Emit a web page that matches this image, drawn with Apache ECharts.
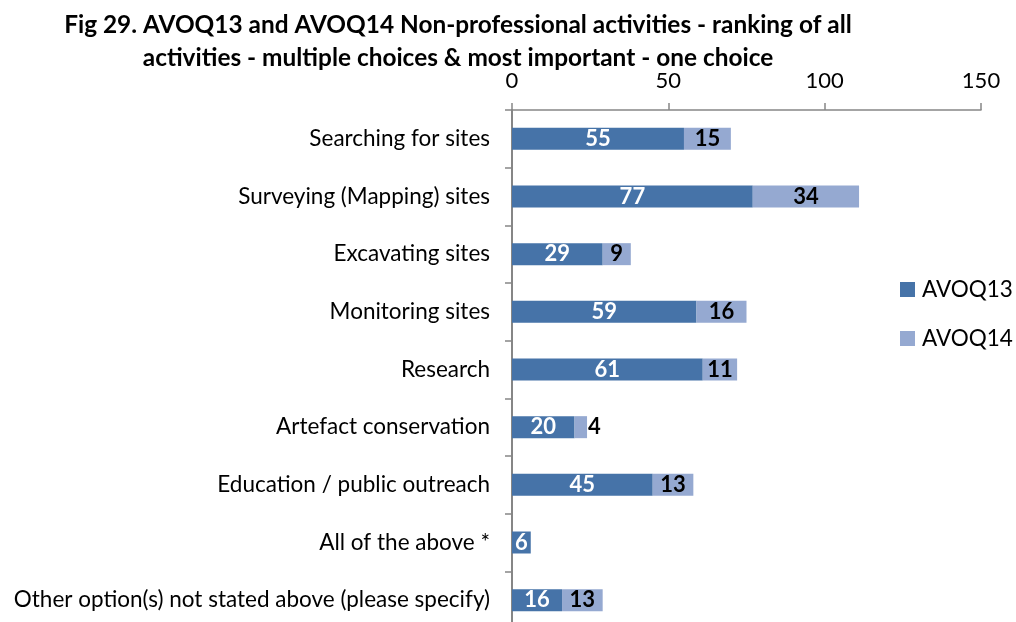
<!DOCTYPE html>
<html>
<head>
<meta charset="utf-8">
<script src="https://cdn.jsdelivr.net/npm/echarts@6/dist/echarts.min.js"></script>
<style>
  html, body { margin: 0; padding: 0; background: #fff; overflow: hidden; }
  /* canvas runs a little past the bottom edge so the last category band is full height */
  #chart { width: 1016px; height: 640px; }
</style>
</head>
<body>
<div id="chart"></div>
<script>
const categories = [
  'Searching for sites',
  'Surveying (Mapping) sites',
  'Excavating sites',
  'Monitoring sites',
  'Research',
  'Artefact conservation',
  'Education / public outreach',
  'All of the above *',
  'Other option(s) not stated above (please specify)'
];
const avoq13 = [55, 77, 29, 59, 61, 20, 45, 6, 16];
const avoq14 = [15, 34, 9, 16, 11, 4, 13, null, 13];
const xTicks = [0, 50, 100, 150];

const FONT = 'Lato, "Open Sans", sans-serif';
const AXIS_COLOR = '#868686';

// Very short segments can't hold their number, so it sits just past the bar end
function segmentData(values) {
  return values.map(v => (v != null && v < 5)
    ? { value: v, label: { position: 'right', distance: 1 } }
    : v);
}

const chart = echarts.init(document.getElementById('chart'), null, { renderer: 'canvas' });

chart.setOption({
  backgroundColor: '#ffffff',
  animation: false,
  title: {
    text: 'Fig 29. AVOQ13 and AVOQ14 Non-professional activities - ranking of all\nactivities - multiple choices & most important - one choice',
    left: 453,
    top: 4,
    textAlign: 'center',
    textStyle: {
      fontFamily: FONT,
      fontWeight: 'bold',
      fontSize: 24.4,
      lineHeight: 33,
      color: '#000'
    }
  },
  legend: {
    orient: 'vertical',
    left: 895,
    top: 273,
    itemWidth: 15,
    itemHeight: 15,
    itemGap: 26,
    icon: 'rect',
    textStyle: { fontFamily: FONT, fontSize: 22.5, color: '#000', padding: [0, 0, 0, 2] },
    data: ['AVOQ13', 'AVOQ14']
  },
  grid: {
    left: 512,
    width: 469,
    top: 110,
    height: 519,
    containLabel: false
  },
  xAxis: {
    type: 'value',
    position: 'top',
    min: xTicks[0],
    max: xTicks[xTicks.length - 1],
    interval: xTicks[1] - xTicks[0],
    axisLine: { show: true, lineStyle: { color: AXIS_COLOR, width: 1.5 } },
    axisTick: { show: true, length: 7, lineStyle: { color: AXIS_COLOR, width: 1.5 } },
    splitLine: { show: false },
    axisLabel: { fontFamily: FONT, fontSize: 22, color: '#000', margin: 18 }
  },
  yAxis: {
    type: 'category',
    inverse: true,
    data: categories,
    axisLine: { show: true, lineStyle: { color: AXIS_COLOR, width: 2 } },
    axisTick: { show: true, length: 7, lineStyle: { color: AXIS_COLOR, width: 1.5 } },
    axisLabel: { fontFamily: FONT, fontSize: 22.5, color: '#000', margin: 22 }
  },
  series: [
    {
      name: 'AVOQ13',
      type: 'bar',
      stack: 'total',
      data: segmentData(avoq13),
      barWidth: 22,
      itemStyle: { color: '#4673A8' },
      label: {
        show: true,
        position: 'inside',
        fontFamily: FONT,
        fontWeight: 'bold',
        fontSize: 22,
        color: '#ffffff'
      }
    },
    {
      name: 'AVOQ14',
      type: 'bar',
      stack: 'total',
      data: segmentData(avoq14),
      barWidth: 22,
      itemStyle: { color: '#95A9D1' },
      label: {
        show: true,
        position: 'inside',
        fontFamily: FONT,
        fontWeight: 'bold',
        fontSize: 22,
        color: '#000000',
        formatter: p => (p.value == null ? '' : p.value)
      }
    }
  ]
});
</script>
</body>
</html>
